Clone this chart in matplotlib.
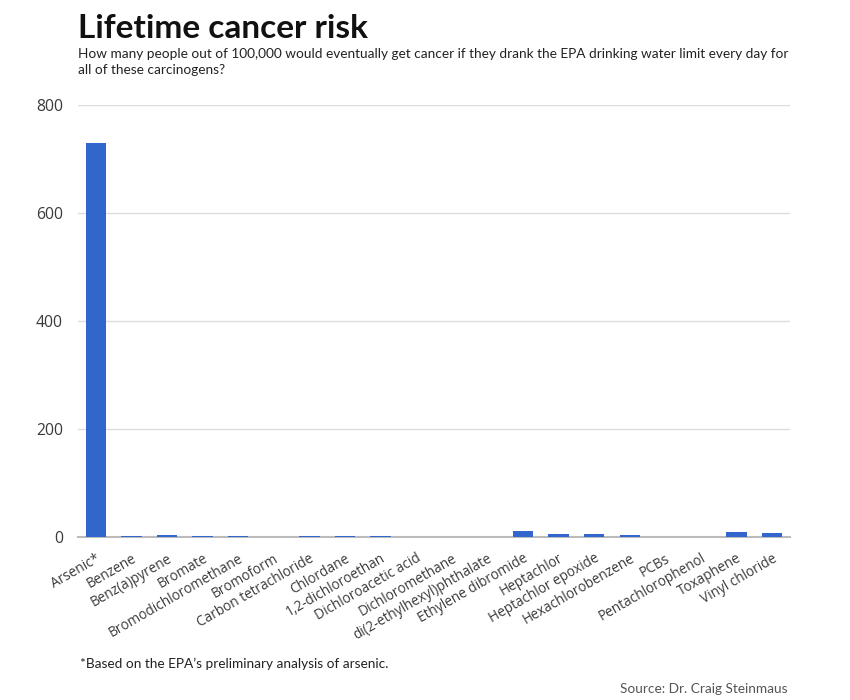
import numpy as np
import matplotlib
matplotlib.use('Agg')
import matplotlib.pyplot as plt

plt.rcParams['font.family'] = ['Lato', 'DejaVu Sans']

chemicals = ['Arsenic*', 'Benzene', 'Benz(a)pyrene', 'Bromate', 'Bromodichloromethane',
             'Bromoform', 'Carbon tetrachloride', 'Chlordane', '1,2-dichloroethan',
             'Dichloroacetic acid', 'Dichloromethane', 'di(2-ethylhexyl)phthalate',
             'Ethylene dibromide', 'Heptachlor', 'Heptachlor epoxide', 'Hexachlorobenzene',
             'PCBs', 'Pentachlorophenol', 'Toxaphene', 'Vinyl chloride']
risk = [730, 1, 4, 2, 1.5, 0.3, 2, 2, 1, 0, 0, 0, 11, 5, 5, 3, 0, 0, 9, 7]

fig = plt.figure(figsize=(8.5, 7), dpi=100)
ax = fig.add_axes([0.0918, 0.233, 0.8376, 0.617])

x = np.arange(len(chemicals))
ax.bar(x, risk, width=0.57, color='#3366CC', zorder=3)
ax.set_xlim(-0.5, len(chemicals) - 0.5)
ax.set_ylim(0, 800)
ax.set_yticks([0, 200, 400, 600, 800])
ax.grid(axis='y', color='#dddddd', linewidth=1, zorder=0)
for s in ['top', 'right', 'left']:
    ax.spines[s].set_visible(False)
ax.spines['bottom'].set_color('#bbbbbb')
ax.spines['bottom'].set_linewidth(1.5)
ax.spines['bottom'].set_zorder(2)
ax.tick_params(axis='both', length=0, colors='#444444')
ax.tick_params(axis='y', pad=11)
ax.set_xticks(x)
ax.set_xticklabels(chemicals, rotation=30, ha='right', rotation_mode='anchor')
for lab in ax.get_yticklabels():
    lab.set_family(['Open Sans', 'DejaVu Sans'])
    lab.set_fontsize(11.3)
    lab.set_color('#3a3a3a')

# size the slanted labels so 'Bromodichloromethane' spans ~140px and starts ~551px down
fs = 11.3
for lab in ax.get_xticklabels():
    lab.set_family(['Open Sans', 'DejaVu Sans'])
    lab.set_fontsize(fs)
    lab.set_color('#3a3a3a')
fig.canvas.draw()
bb = ax.get_xticklabels()[4].get_window_extent(fig.canvas.get_renderer())
fs = fs * 140 / bb.width
for lab in ax.get_xticklabels():
    lab.set_fontsize(fs)
fig.canvas.draw()
bb = ax.get_xticklabels()[4].get_window_extent(fig.canvas.get_renderer())
pad = 3.5 + (551 - (700 - bb.y1)) * 72 / 100
ax.tick_params(axis='x', pad=pad)

fig.text(0.092, 1 - 38 / 700, 'Lifetime cancer risk', fontsize=24, fontweight='bold',
         va='baseline', color='#111111')
fig.text(0.092, 1 - 58 / 700, 'How many people out of 100,000 would eventually get cancer if they drank the EPA drinking water limit every day for',
         fontsize=9.85, va='baseline', color='#222222')
fig.text(0.092, 1 - 74 / 700, 'all of these carcinogens?',
         fontsize=9.85, va='baseline', color='#222222')
fig.text(0.094, 0.052, '*Based on the EPA\u2019s preliminary analysis of arsenic.', fontsize=9.85,
         va='center', color='#222222')
fig.text(0.926, 0.016, 'Source: Dr. Craig Steinmaus', fontsize=9.85, ha='right',
         va='center', color='#555555')

plt.savefig('out.png')
